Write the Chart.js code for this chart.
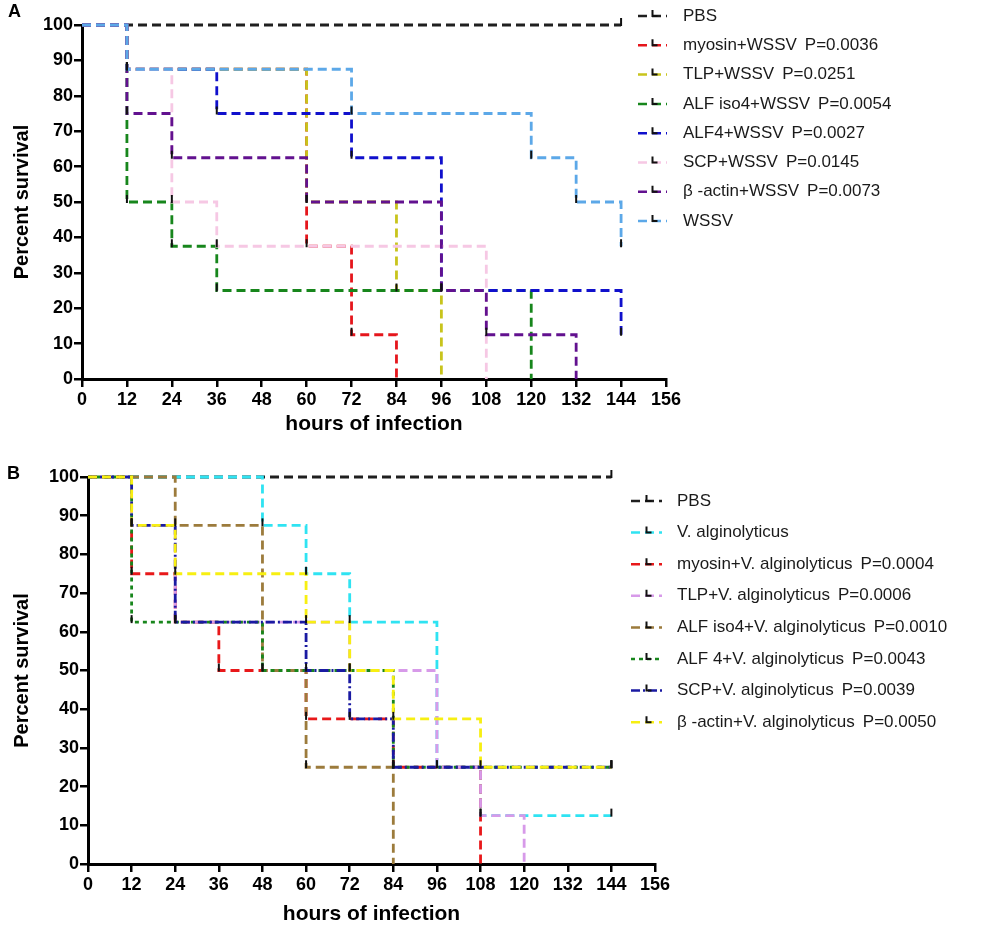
<!DOCTYPE html>
<html>
<head>
<meta charset="utf-8">
<script src="https://cdn.jsdelivr.net/npm/chart.js@4.4.1/dist/chart.umd.min.js"></script>
<style>
  body { margin: 0; background: #fff; }
  .panel { position: absolute; left: 0; width: 990px; }
</style>
</head>
<body>
<div class="panel" style="top:0;height:460px"><canvas id="chartA"></canvas></div>
<div class="panel" style="top:460px;height:474px"><canvas id="chartB"></canvas></div>
<script>
// ---- panel A: WSSV challenge, [hour, % survival] at each step
const labelsA = ['PBS', 'myosin+WSSV', 'TLP+WSSV', 'ALF iso4+WSSV', 'ALF4+WSSV', 'SCP+WSSV', 'β -actin+WSSV', 'WSSV'];
const pValuesA = ['', 'P=0.0036', 'P=0.0251', 'P=0.0054', 'P=0.0027', 'P=0.0145', 'P=0.0073', ''];
const a_pbs = [[0, 100], [144, 100]];
const a_myosin = [[0, 100], [12, 87.5], [60, 37.5], [72, 12.5], [84, 0]];
const a_tlp = [[0, 100], [12, 87.5], [60, 50], [84, 25], [96, 0]];
const a_alfIso4 = [[0, 100], [12, 50], [24, 37.5], [36, 25], [120, 0]];
const a_alf4 = [[0, 100], [12, 87.5], [36, 75], [72, 62.5], [96, 25], [144, 12.5]];
const a_scp = [[0, 100], [12, 87.5], [24, 50], [36, 37.5], [108, 0]];
const a_actin = [[0, 100], [12, 75], [24, 62.5], [60, 50], [96, 25], [108, 12.5], [132, 0]];
const a_wssv = [[0, 100], [12, 87.5], [72, 75], [120, 62.5], [132, 50], [144, 37.5]];

// ---- panel B: V. alginolyticus challenge
const labelsB = ['PBS', 'V. alginolyticus', 'myosin+V. alginolyticus', 'TLP+V. alginolyticus', 'ALF iso4+V. alginolyticus',
  'ALF 4+V. alginolyticus', 'SCP+V. alginolyticus', 'β -actin+V. alginolyticus'];
const pValuesB = ['', '', 'P=0.0004', 'P=0.0006', 'P=0.0010', 'P=0.0043', 'P=0.0039', 'P=0.0050'];
const b_pbs = [[0, 100], [144, 100]];
const b_valg = [[0, 100], [48, 87.5], [60, 75], [72, 62.5], [96, 25], [108, 12.5], [144, 12.5]];
const b_myosin = [[0, 100], [12, 75], [24, 62.5], [36, 50], [60, 37.5], [84, 25], [108, 0]];
const b_tlp = [[0, 100], [12, 87.5], [24, 62.5], [72, 50], [96, 25], [108, 12.5], [120, 0]];
const b_alfIso4 = [[0, 100], [24, 87.5], [48, 50], [60, 25], [84, 0]];
const b_alf4 = [[0, 100], [12, 62.5], [48, 50], [84, 25], [144, 25]];
const b_scp = [[0, 100], [12, 87.5], [24, 62.5], [60, 50], [72, 37.5], [84, 25], [144, 25]];
const b_actin = [[0, 100], [12, 87.5], [24, 75], [60, 62.5], [72, 50], [84, 37.5], [108, 25], [144, 25]];

const FONT = '"Liberation Sans", Arial, sans-serif';
const DASH = [9, 5];

function kmDatasets(steps, labels, colors, dashes) {
  return steps.map((s, i) => ({
    label: labels[i],
    data: s.map(p => ({ x: p[0], y: p[1] })),
    borderColor: colors[i],
    borderWidth: 2.8,
    borderDash: dashes[i],
    stepped: true,
    pointRadius: 0,
    fill: false,
    clip: false,
    order: steps.length - i   // later groups drawn on top
  }));
}

// censor ticks + hand-drawn legend and panel letter
const kmExtras = {
  id: 'kmExtras',
  afterDatasetsDraw(chart) {
    const ctx = chart.ctx;
    ctx.save();
    ctx.strokeStyle = '#111';
    ctx.lineWidth = 2;
    chart.data.datasets.forEach((ds, i) => {
      chart.getDatasetMeta(i).data.forEach((pt, j) => {
        if (j === 0 || ds.data[j].y === 0) return;
        ctx.beginPath();
        ctx.moveTo(pt.x, pt.y + 1);
        ctx.lineTo(pt.x, pt.y - 7);
        ctx.stroke();
      });
    });
    ctx.restore();
  },
  afterDraw(chart, args, o) {
    const ctx = chart.ctx;
    ctx.save();
    ctx.textBaseline = 'middle';
    ctx.fillStyle = '#000';
    ctx.font = 'bold 18px ' + FONT;
    ctx.fillText(o.letter, o.letterX, o.letterY);
    ctx.font = '17px ' + FONT;
    chart.data.datasets.forEach((ds, i) => {
      const y = o.rowY + i * o.rowStep;
      ctx.strokeStyle = ds.borderColor;
      ctx.lineWidth = 2.5;
      ctx.setLineDash(ds.borderDash);
      ctx.beginPath();
      ctx.moveTo(o.sampleX0, y);
      ctx.lineTo(o.sampleX1, y);
      ctx.stroke();
      ctx.setLineDash([]);
      const mx = (o.sampleX0 + o.sampleX1) / 2;
      ctx.strokeStyle = '#111';
      ctx.lineWidth = 2;
      ctx.beginPath();
      ctx.moveTo(mx, y - 6);
      ctx.lineTo(mx, y);
      ctx.lineTo(mx + 5, y);
      ctx.stroke();
      ctx.fillStyle = '#1a1a1a';
      ctx.fillText(ds.label, o.textX, y);
      if (o.pvalues[i]) {
        ctx.fillText(o.pvalues[i], o.textX + ctx.measureText(ds.label).width + 8, y);
      }
    });
    ctx.restore();
  }
};

function axes(yWidth, xHeight, xTitlePad) {
  const tickFont = { family: FONT, size: 18, weight: 'bold' };
  return {
    x: {
      type: 'linear', min: 0, max: 156,
      ticks: { stepSize: 12, autoSkip: false, maxRotation: 0, color: '#000', font: tickFont, padding: 2 },
      grid: { drawOnChartArea: false, tickLength: 8, color: '#000', lineWidth: 2.5 },
      border: { color: '#000', width: 3 },
      title: { display: true, text: 'hours of infection', color: '#000',
        font: { family: FONT, size: 21, weight: 'bold' }, padding: { top: 0, bottom: xTitlePad } },
      afterFit(s) { s.height = xHeight; }
    },
    y: {
      min: 0, max: 100,
      ticks: { stepSize: 10, color: '#000', font: tickFont, padding: 1 },
      grid: { drawOnChartArea: false, tickLength: 8, color: '#000', lineWidth: 2.5 },
      border: { color: '#000', width: 3 },
      title: { display: true, text: 'Percent survival', color: '#000',
        font: { family: FONT, size: 20, weight: 'bold' }, padding: { top: 10, bottom: 0 } },
      afterFit(s) { s.width = yWidth; }
    }
  };
}

function kmChart(id, datasets, scales, padding, extras) {
  return new Chart(document.getElementById(id).getContext('2d'), {
    type: 'line',
    data: { datasets: datasets },
    options: {
      responsive: true,
      maintainAspectRatio: false,
      animation: false,
      layout: { padding: padding },
      scales: scales,
      plugins: { legend: { display: false }, tooltip: { enabled: false }, kmExtras: extras }
    },
    plugins: [kmExtras]
  });
}

const colorsA = ['#1f1f1f', '#e5161c', '#c8c41c', '#17861c', '#1010cc', '#f6c8e4', '#62118f', '#5ca8e8'];
const dashesA = labelsA.map(() => DASH);
const chartA = kmChart('chartA',
  kmDatasets([a_pbs, a_myosin, a_tlp, a_alfIso4, a_alf4, a_scp, a_actin, a_wssv], labelsA, colorsA, dashesA),
  axes(82, 81, 23),
  { top: 25, right: 324, left: 0, bottom: 0 },
  { letter: 'A', letterX: 8, letterY: 12, rowY: 16, rowStep: 29.3,
    sampleX0: 638, sampleX1: 667, textX: 683, pvalues: pValuesA });

const colorsB = ['#1f1f1f', '#2fe3f2', '#e8181a', '#d79ae9', '#9c7b3c', '#18861c', '#1a1aa2', '#f7ef12'];
const dashesB = [DASH, DASH, DASH, DASH, DASH, [4, 4], [9, 3, 2, 3], DASH];
const chartB = kmChart('chartB',
  kmDatasets([b_pbs, b_valg, b_myosin, b_tlp, b_alfIso4, b_alf4, b_scp, b_actin], labelsB, colorsB, dashesB),
  axes(88, 70, 7),
  { top: 17, right: 335, left: 0, bottom: 0 },
  { letter: 'B', letterX: 7, letterY: 14, rowY: 41, rowStep: 31.6,
    sampleX0: 631, sampleX1: 662, textX: 677, pvalues: pValuesB });
</script>
</body>
</html>
